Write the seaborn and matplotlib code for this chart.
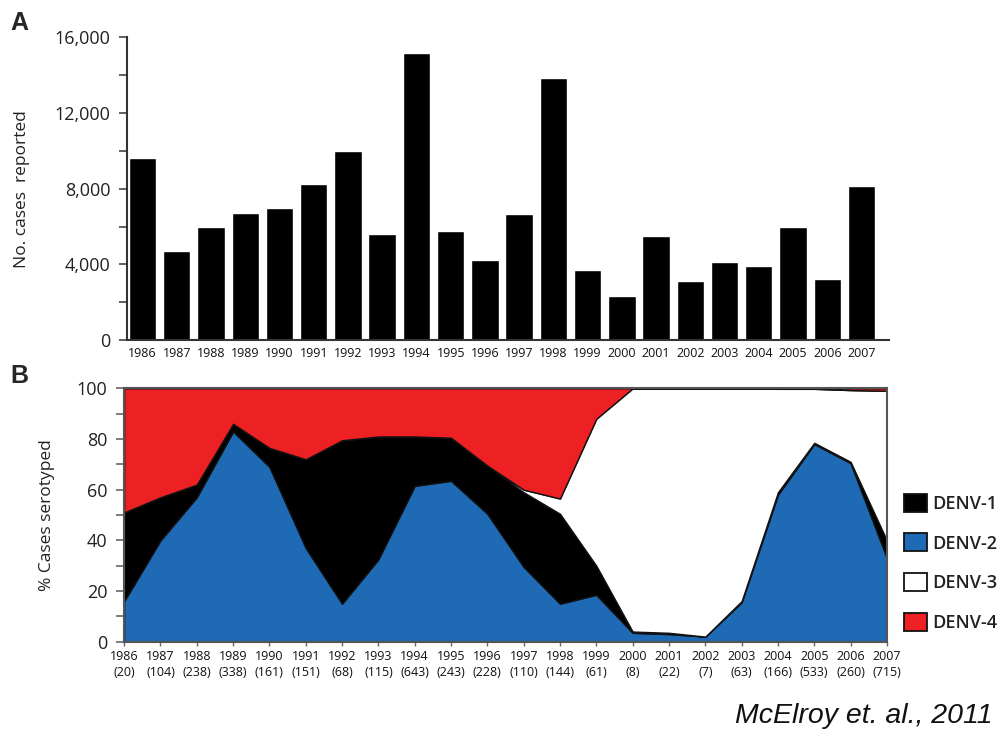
import numpy as np
import pandas as pd
import seaborn as sns
import matplotlib.pyplot as plt
from matplotlib.patches import Patch
from matplotlib.ticker import MultipleLocator, FuncFormatter

sns.set_style("ticks")
plt.rcParams['font.family'] = ['Open Sans', 'DejaVu Sans']

# %% data
years = list(range(1986, 2008))
cases = [9600, 4700, 6000, 6700, 7000, 8250, 10000, 5600, 15150, 5750,
         4250, 6650, 13850, 3700, 2350, 5500, 3100, 4100, 3900, 6000,
         3250, 8150]
n_serotyped = [20, 104, 238, 338, 161, 151, 68, 115, 643, 243, 228,
               110, 144, 61, 8, 22, 7, 63, 166, 533, 260, 715]

# % of serotyped cases
denv1 = [35, 17, 5, 3, 7.5, 35, 64.5, 48.5, 19.5, 17, 19, 29.5, 35.5,
         11.5, 0.5, 0.5, 0, 0.5, 1, 0.5, 0.5, 7]
denv2 = [16, 40, 57, 83, 69, 37, 15, 32.5, 61.5, 63.5, 50.5, 29.5, 15,
         18.5, 3.5, 3, 2, 15.5, 58, 78, 70.5, 33]
denv3 = [0, 0, 0, 0, 0, 0, 0, 0, 0, 0, 0, 1, 6, 58, 96, 96.5, 98, 84,
         40.8, 21.3, 28.3, 59]
denv4 = [49, 43, 38, 14, 23.5, 28, 20.5, 19, 19, 19.5, 30.5, 40, 43.5,
         12, 0, 0, 0, 0, 0.2, 0.2, 0.7, 1]

colors = {'DENV-1': '#000000', 'DENV-2': '#1E6AB4',
          'DENV-3': '#FFFFFF', 'DENV-4': '#ED2024'}

df_cases = pd.DataFrame({'year': [str(y) for y in years], 'cases': cases})

# %% figure
fig = plt.figure(figsize=(10.01, 7.32), dpi=100)
ax_a = fig.add_axes([0.127, 0.5355, 0.761, 0.4135])
ax_b = fig.add_axes([0.124, 0.1234, 0.762, 0.3461])

# panel A - cases per year
sns.barplot(data=df_cases, x='year', y='cases', color='black', saturation=1,
            width=0.8, ax=ax_a)
ax_a.set_xlim(-0.45, 21.8)
ax_a.set_ylim(0, 16000)
ax_a.yaxis.set_major_locator(MultipleLocator(4000))
ax_a.yaxis.set_minor_locator(MultipleLocator(2000))
ax_a.yaxis.set_major_formatter(FuncFormatter(lambda v, p: f"{int(v):,}"))
ax_a.tick_params(axis='y', which='both', length=6, width=1.2, color='#444444',
                 labelsize=13, pad=6, labelcolor='#222222')
ax_a.tick_params(axis='x', length=0, labelsize=9, pad=5, labelcolor='#111111')
ax_a.set_xlabel('')
ax_a.set_ylabel('No. cases  reported', fontsize=12.5, color='#222222')
ax_a.yaxis.set_label_coords(-0.128, 0.5)
sns.despine(ax=ax_a)
for s in ['left', 'bottom']:
    ax_a.spines[s].set_linewidth(1.5)
    ax_a.spines[s].set_color('#333333')

# panel B - serotype shares
ax_b.stackplot(years, denv2, denv1, denv3, denv4,
               colors=[colors['DENV-2'], colors['DENV-1'],
                       colors['DENV-3'], colors['DENV-4']],
               edgecolor='#111111', linewidth=1.0)
ax_b.set_xlim(1986, 2007)
ax_b.set_ylim(0, 100)
ax_b.yaxis.set_major_locator(MultipleLocator(20))
ax_b.yaxis.set_minor_locator(MultipleLocator(10))
ax_b.set_xticks(years)
ax_b.set_xticklabels([f"{y}\n({n})" for y, n in zip(years, n_serotyped)],
                     fontsize=9, color='#111111', linespacing=1.25)
ax_b.tick_params(axis='x', length=3, width=1, color='#666666', pad=3)
ax_b.tick_params(axis='y', which='both', length=6, width=1.2, color='#666666',
                 labelsize=13, pad=6, labelcolor='#222222')
ax_b.set_ylabel('% Cases serotyped', fontsize=12.5, color='#222222')
ax_b.yaxis.set_label_coords(-0.09, 0.5)
for s in ax_b.spines.values():
    s.set_linewidth(1.5)
    s.set_color('#555555')

handles = [Patch(facecolor=colors[k], edgecolor='#111111', linewidth=1.3, label=k)
           for k in ['DENV-1', 'DENV-2', 'DENV-3', 'DENV-4']]
leg = fig.legend(handles=handles, loc='center left', bbox_to_anchor=(0.903, 0.231),
                 frameon=False, fontsize=13, handlelength=1.3, handleheight=1.15,
                 handletextpad=0.25, labelspacing=1.15, borderpad=0, borderaxespad=0)
for t in leg.get_texts():
    t.set_fontweight('semibold')
    t.set_color('#222222')

# panel letters and citation
fig.text(0.010, 0.968, 'A', fontsize=18, fontweight='bold',
         family='Liberation Sans', va='center')
fig.text(0.010, 0.487, 'B', fontsize=18, fontweight='bold',
         family='Liberation Sans', va='center')
fig.text(0.992, 0.0123, 'McElroy et. al., 2011', fontsize=20.5, style='italic',
         family='Liberation Sans', ha='right', va='baseline', color='#111111')

fig.savefig('out.png', dpi=100)
